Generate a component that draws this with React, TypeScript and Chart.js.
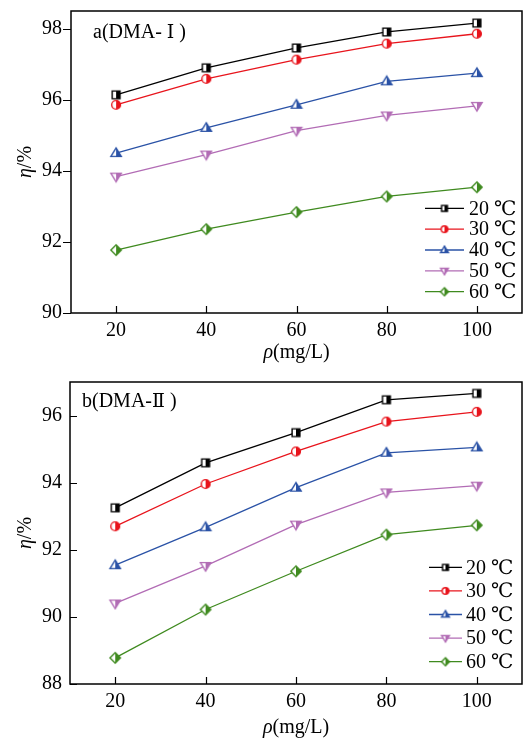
import React, { useEffect, useRef } from "react";
import { Chart, registerables } from "chart.js";
Chart.register(...registerables);

const xValues = [20, 40, 60, 80, 100];
const xTicks = [20, 40, 60, 80, 100];
const yTicksA = [90, 92, 94, 96, 98];
const yTicksB = [88, 90, 92, 94, 96];
const seriesLabels = ["20 ℃", "30 ℃", "40 ℃", "50 ℃", "60 ℃"];
const seriesColors = ["#000000", "#E8141C", "#2A52A6", "#B26CB5", "#3F8A1F"];
const seriesShapes = ["square", "circle", "triangle", "invTriangle", "diamond"];

const a20 = [96.14, 96.9, 97.46, 97.91, 98.16];
const a30 = [95.86, 96.59, 97.13, 97.58, 97.86];
const a40 = [94.5, 95.21, 95.86, 96.52, 96.75];
const a50 = [93.84, 94.46, 95.13, 95.56, 95.83];
const a60 = [91.77, 92.36, 92.84, 93.28, 93.54];

const b20 = [93.25, 94.59, 95.49, 96.47, 96.66];
const b30 = [92.7, 93.96, 94.93, 95.82, 96.11];
const b40 = [91.54, 92.67, 93.85, 94.89, 95.05];
const b50 = [90.4, 91.52, 92.75, 93.71, 93.91];
const b60 = [88.78, 90.22, 91.36, 92.45, 92.73];

const FONT = '"Liberation Serif", "Times New Roman", "DejaVu Serif", "Noto Sans CJK SC", serif';
const NUMF = '"DejaVu Serif", "Noto Sans CJK SC", serif';

function makeMarker(shape: string, color: string, size: number) {
  const c = document.createElement("canvas");
  const w = Math.ceil(size + 4);
  c.width = w;
  c.height = w;
  const ctx = c.getContext("2d")!;
  const m = w / 2;
  const path = () => {
    ctx.beginPath();
    if (shape === "square") {
      const s = size * 0.78;
      ctx.rect(m - s / 2, m - s / 2, s, s);
    } else if (shape === "circle") {
      ctx.arc(m, m, size * 0.44, 0, Math.PI * 2);
    } else if (shape === "triangle") {
      const hw = size * 0.52, h = size * 0.85;
      ctx.moveTo(m, m - h * 0.6);
      ctx.lineTo(m + hw, m + h * 0.4);
      ctx.lineTo(m - hw, m + h * 0.4);
      ctx.closePath();
    } else if (shape === "invTriangle") {
      const hw = size * 0.52, h = size * 0.85;
      ctx.moveTo(m, m + h * 0.6);
      ctx.lineTo(m + hw, m - h * 0.4);
      ctx.lineTo(m - hw, m - h * 0.4);
      ctx.closePath();
    } else {
      const r = size * 0.52;
      ctx.moveTo(m, m - r);
      ctx.lineTo(m + r, m);
      ctx.lineTo(m, m + r);
      ctx.lineTo(m - r, m);
      ctx.closePath();
    }
  };
  path();
  ctx.fillStyle = "#ffffff";
  ctx.fill();
  ctx.save();
  ctx.beginPath();
  ctx.rect(m, 0, w, w);
  ctx.clip();
  path();
  ctx.fillStyle = color;
  ctx.fill();
  ctx.restore();
  path();
  ctx.strokeStyle = color;
  ctx.lineWidth = 1.4;
  ctx.stroke();
  return c;
}

type PanelOpts = {
  series: number[][];
  yTicks: number[];
  yMin: number;
  yMax: number;
  padTop: number;
  yWidth: number;
  xHeight: number;
  yTickOut: boolean;
  yLabelPad: number;
  labelHead: string;
  labelNum: string;
  labelX: number;
  labelY: number;
  xTitleY: number;
  legX1: number;
  legX2: number;
  legTx: number;
  legY0: number;
  legDy: number;
};

function drawParts(ctx: CanvasRenderingContext2D, parts: [string, string][], x0: number, cy: number, center: boolean) {
  let total = 0;
  for (const [t, f] of parts) {
    ctx.font = f;
    total += ctx.measureText(t).width;
  }
  let x = center ? x0 - total / 2 : x0;
  ctx.textAlign = "left";
  ctx.textBaseline = "middle";
  for (const [t, f] of parts) {
    ctx.font = f;
    ctx.fillText(t, x, cy);
    x += ctx.measureText(t).width;
  }
}

function buildChart(canvas: HTMLCanvasElement, o: PanelOpts) {
  const plotMarkers = seriesShapes.map((s, i) => makeMarker(s, seriesColors[i], 10));
  const legMarkers = seriesShapes.map((s, i) => makeMarker(s, seriesColors[i], 7.5));
  const F = `20px ${FONT}`;
  const FI = `italic 20px ${FONT}`;
  const decor = {
    id: "decor",
    afterDraw(chart: any) {
      const ctx = chart.ctx as CanvasRenderingContext2D;
      const a = chart.chartArea;
      const xs = chart.scales.x;
      const ys = chart.scales.y;
      ctx.save();
      ctx.strokeStyle = "#000";
      ctx.lineWidth = 1.5;
      ctx.strokeRect(a.left, a.top, a.right - a.left, a.bottom - a.top);
      ctx.lineWidth = 1.2;
      ctx.beginPath();
      for (const v of xTicks) {
        const px = Math.round(xs.getPixelForValue(v)) + 0.5;
        ctx.moveTo(px, a.bottom);
        ctx.lineTo(px, a.bottom - 7);
      }
      for (const v of o.yTicks) {
        const py = Math.round(ys.getPixelForValue(v)) + 0.5;
        ctx.moveTo(a.left, py);
        ctx.lineTo(o.yTickOut ? a.left - 8 : a.left + 7, py);
      }
      ctx.stroke();
      ctx.fillStyle = "#000";
      drawParts(ctx, [[o.labelHead, F], [o.labelNum, `19px ${NUMF}`], [" )", F]], o.labelX, o.labelY, false);
      drawParts(ctx, [["ρ", FI], ["(mg/L)", F]], (a.left + a.right) / 2, o.xTitleY, true);
      ctx.save();
      ctx.translate(26, (a.top + a.bottom) / 2);
      ctx.rotate(-Math.PI / 2);
      drawParts(ctx, [["η", FI], ["/%", F]], 0, 0, true);
      ctx.restore();
      for (let i = 0; i < seriesLabels.length; i++) {
        const y = o.legY0 + i * o.legDy;
        ctx.strokeStyle = seriesColors[i];
        ctx.lineWidth = 1.3;
        ctx.beginPath();
        ctx.moveTo(o.legX1, y);
        ctx.lineTo(o.legX2, y);
        ctx.stroke();
        const mk = legMarkers[i];
        ctx.drawImage(mk, (o.legX1 + o.legX2) / 2 - mk.width / 2, y - mk.height / 2);
        ctx.fillStyle = "#000";
        ctx.font = F;
        ctx.textAlign = "left";
        ctx.textBaseline = "middle";
        ctx.fillText(seriesLabels[i], o.legTx, y + 1);
      }
      ctx.restore();
    },
  };
  const zeroPad = (s: any) => {
    s.paddingTop = 0;
    s.paddingBottom = 0;
    s.paddingLeft = 0;
    s.paddingRight = 0;
  };
  return new Chart(canvas, {
    type: "line",
    data: {
      datasets: o.series.map((arr, i) => ({
        label: seriesLabels[i],
        data: xValues.map((x, j) => ({ x, y: arr[j] })),
        borderColor: seriesColors[i],
        backgroundColor: seriesColors[i],
        borderWidth: 1.3,
        pointStyle: plotMarkers[i] as any,
        pointRadius: 5,
        tension: 0,
      })),
    },
    options: {
      animation: false,
      responsive: false,
      devicePixelRatio: 1,
      layout: { autoPadding: false, padding: { top: o.padTop, right: 2, left: 0, bottom: 0 } },
      plugins: { legend: { display: false }, tooltip: { enabled: false } },
      scales: {
        x: {
          type: "linear",
          min: 10,
          max: 110,
          grid: { display: false, drawTicks: false },
          border: { display: false },
          afterBuildTicks: (s: any) => {
            s.ticks = xTicks.map((v) => ({ value: v }));
          },
          afterFit: (s: any) => {
            s.height = o.xHeight;
            zeroPad(s);
          },
          ticks: { padding: 6, color: "#000", font: { family: FONT, size: 20 }, maxRotation: 0 },
        },
        y: {
          type: "linear",
          min: o.yMin,
          max: o.yMax,
          grid: { display: false, drawTicks: false },
          border: { display: false },
          afterBuildTicks: (s: any) => {
            s.ticks = o.yTicks.map((v) => ({ value: v }));
          },
          afterFit: (s: any) => {
            s.width = o.yWidth;
            zeroPad(s);
          },
          ticks: { padding: o.yLabelPad, color: "#000", font: { family: FONT, size: 20 } },
        },
      },
    },
    plugins: [decor],
  } as any);
}

export default function App() {
  const topRef = useRef<HTMLCanvasElement>(null);
  const botRef = useRef<HTMLCanvasElement>(null);
  useEffect(() => {
    const c1 = buildChart(topRef.current!, {
      series: [a20, a30, a40, a50, a60],
      yTicks: yTicksA,
      yMin: 90,
      yMax: 98.5,
      padTop: 11,
      yWidth: 71,
      xHeight: 57,
      yTickOut: true,
      yLabelPad: 9,
      labelHead: "a(DMA- ",
      labelNum: "Ⅰ",
      labelX: 93,
      labelY: 33,
      xTitleY: 353,
      legX1: 425,
      legX2: 464,
      legTx: 469,
      legY0: 208.3,
      legDy: 20.85,
    });
    const c2 = buildChart(botRef.current!, {
      series: [b20, b30, b40, b50, b60],
      yTicks: yTicksB,
      yMin: 88,
      yMax: 97,
      padTop: 12,
      yWidth: 70,
      xHeight: 56,
      yTickOut: false,
      yLabelPad: 8,
      labelHead: "b(DMA-",
      labelNum: "Ⅱ",
      labelX: 82,
      labelY: 32,
      xTitleY: 358,
      legX1: 429,
      legX2: 462,
      legTx: 466,
      legY0: 197.3,
      legDy: 23.6,
    });
    return () => {
      c1.destroy();
      c2.destroy();
    };
  }, []);
  return (
    <div style={{ position: "absolute", left: 0, top: 0, width: 524, height: 740, background: "#fff" }}>
      <canvas ref={topRef} width={524} height={370} style={{ display: "block", width: 524, height: 370 }} />
      <canvas ref={botRef} width={524} height={370} style={{ display: "block", width: 524, height: 370 }} />
    </div>
  );
}
